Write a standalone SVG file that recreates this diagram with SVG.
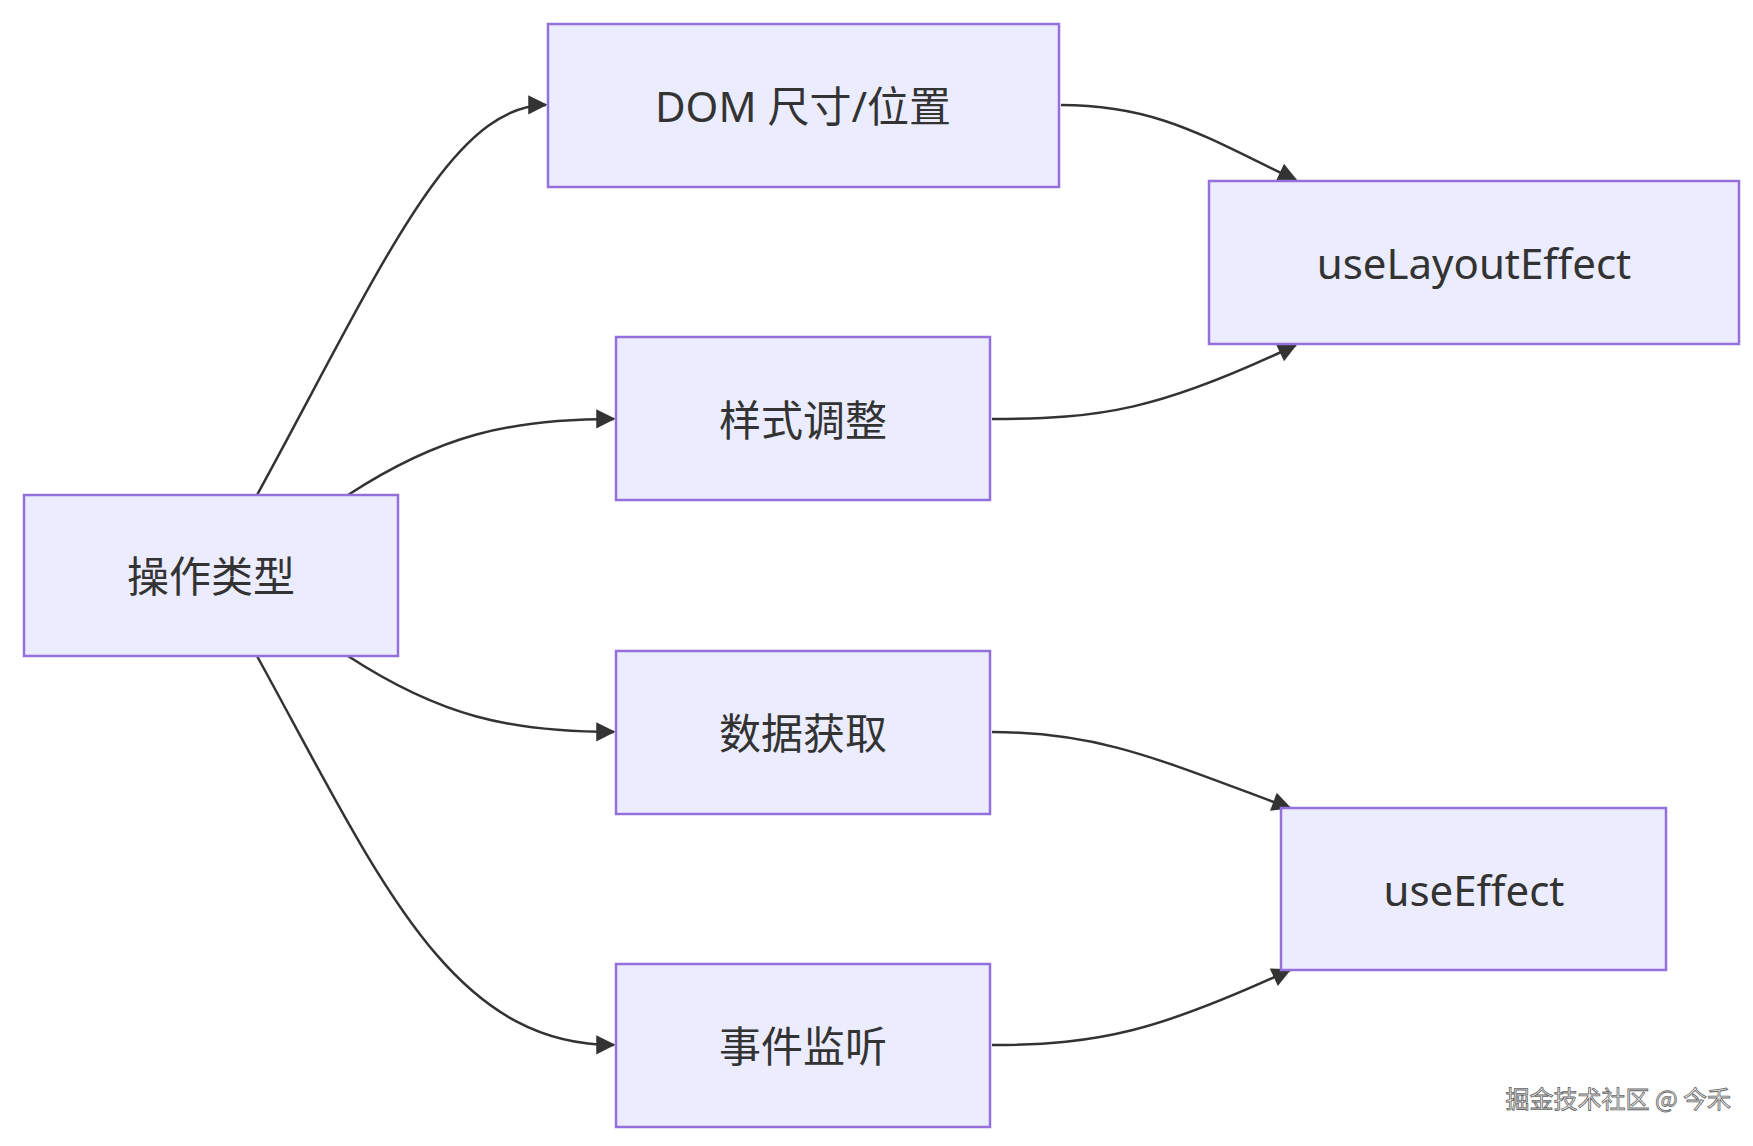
<svg xmlns="http://www.w3.org/2000/svg" width="1753" height="1146" viewBox="0 0 1753 1146">
<defs>
<style>
.n rect{fill:#ECECFF;stroke:#9370DB;stroke-width:2.5}
.n text{font-family:"Noto Sans","Noto Sans CJK SC",sans-serif;font-size:42px;fill:#333;text-anchor:middle;dominant-baseline:central}
.e path{fill:none;stroke:#333;stroke-width:2.5;marker-end:url(#a)}
</style>
<marker id="a" viewBox="0 0 10 10" refX="9" refY="5" markerWidth="8" markerHeight="8" markerUnits="userSpaceOnUse" orient="auto" style="overflow:visible"><path d="M0,0L10,5L0,10z" fill="#333" transform="scale(2.4) translate(-5.5,-3)"/></marker>
</defs>
<rect width="1753" height="1146" fill="#fff"/>
<g class="e">
<path d="M257,495 C380,270 450,105 546,105"/>
<path d="M348,495 C440,435 510,419 614,419"/>
<path d="M348,656 C440,716 510,732 614,732"/>
<path d="M257,656 C380,880 450,1045 614,1045"/>
<path d="M1061,105 C1160,105 1210,140 1296,180"/>
<path d="M992,419 C1100,419 1160,410 1296,345"/>
<path d="M992,732 C1100,732 1160,760 1290,808"/>
<path d="M992,1045 C1100,1045 1160,1030 1290,970"/>
</g>
<g id="op" class="n"><rect x="24" y="495" width="374" height="161"/><text x="211" y="575">操作类型</text></g>
<g id="dom" class="n"><rect x="548" y="24" width="511" height="163"/><text x="803" y="105">DOM 尺寸/位置</text></g>
<g id="style" class="n"><rect x="616" y="337" width="374" height="163"/><text x="803" y="419">样式调整</text></g>
<g id="data" class="n"><rect x="616" y="651" width="374" height="163"/><text x="803" y="732">数据获取</text></g>
<g id="event" class="n"><rect x="616" y="964" width="374" height="163"/><text x="803" y="1045">事件监听</text></g>
<g id="ule" class="n"><rect x="1209" y="181" width="530" height="163"/><text x="1474" y="262">useLayoutEffect</text></g>
<g id="ue" class="n"><rect x="1281" y="808" width="385" height="162"/><text x="1474" y="889">useEffect</text></g>
<text x="1731" y="1108" text-anchor="end" font-family="Noto Sans CJK SC,sans-serif" font-size="24" fill="#eee" stroke="#666" stroke-width="0.8">掘金技术社区 @ 今禾</text>
</svg>
